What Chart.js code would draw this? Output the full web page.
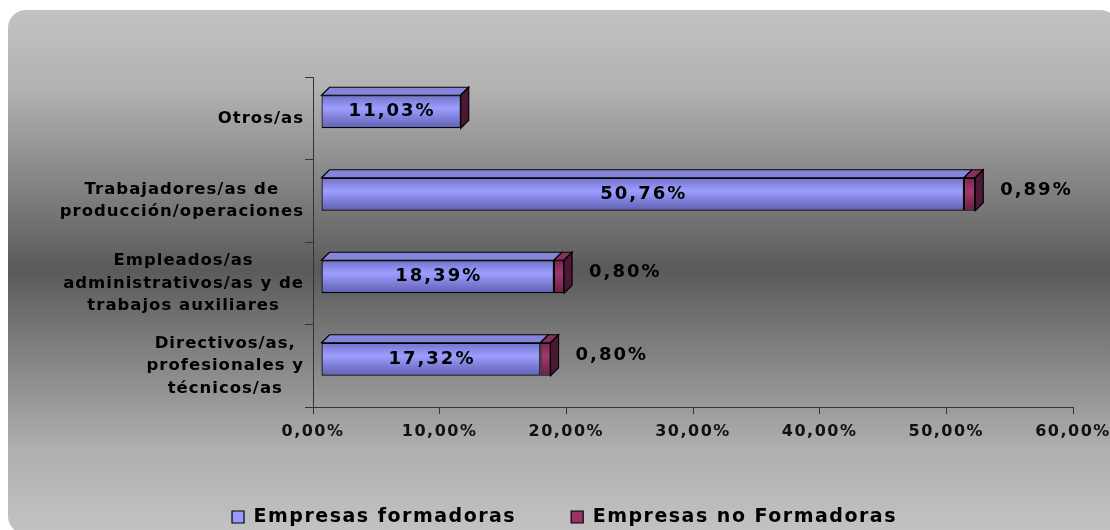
<!DOCTYPE html>
<html>
<head>
<meta charset="utf-8">
<script src="https://cdn.jsdelivr.net/npm/chart.js@4.4.0/dist/chart.umd.min.js"></script>
<style>
    html, body { margin: 0; padding: 0; background: #fff; overflow: hidden; }
</style>
</head>
<body>
<canvas id="grafico" width="1110" height="530"></canvas>
<script>
// datos
const categorias = [
    ['Otros/as'],
    ['Trabajadores/as de', 'producción/operaciones'],
    ['Empleados/as', 'administrativos/as y de', 'trabajos auxiliares'],
    ['Directivos/as,', 'profesionales y', 'técnicos/as']
];
const formadoras = [11.03, 50.76, 18.39, 17.32];
const noFormadoras = [0, 0.89, 0.80, 0.80];
const nombresSeries = ['Empresas formadoras', 'Empresas no Formadoras'];
const coloresSeries = ['#9999ff', '#993366'];
const ticksX = [0, 10, 20, 30, 40, 50, 60];

const PROF = 8;      // profundidad del efecto 3D
const DY = -6.5;     // desplazamiento vertical de la cara frontal
const FUENTE = 'DejaVu Sans, Verdana, sans-serif';

function pct(v) {
    return v.toFixed(2).replace('.', ',') + '%';
}

function degradado(c, c1, c2, c3) {
    const chart = c.chart;
    const ys = chart.scales.y;
    if (!ys || c.type !== 'data') return c2;
    const yc = ys.getPixelForValue(c.dataIndex);
    const h = ys.height / categorias.length * 0.4;
    if (!isFinite(yc) || !isFinite(h) || h <= 0) return c2;
    const g = chart.ctx.createLinearGradient(0, yc - h / 2, 0, yc + h / 2);
    g.addColorStop(0, c1);
    g.addColorStop(0.4, c2);
    g.addColorStop(1, c3);
    return g;
}

const espaciado = {
    id: 'espaciado',
    beforeUpdate(chart) { chart.ctx.letterSpacing = '1.5px'; },
    beforeDraw(chart) { chart.ctx.letterSpacing = '1.5px'; },
    afterLayout(chart) {
        // la leyenda va pegada al borde inferior, como en el original
        const lg = chart.legend;
        const alto = lg.height;
        lg.top = 517 - lg.options.labels.padding - 9.5;
        lg.bottom = lg.top + alto;
        lg.left += 28;
        lg.right += 28;
    }
};

const fondo = {
    id: 'fondo',
    beforeDraw(chart) {
        const ctx = chart.ctx;
        ctx.save();
        const g = ctx.createLinearGradient(0, 10, 0, 530);
        g.addColorStop(0, '#c2c2c2');
        g.addColorStop(0.15, '#b2b2b2');
        g.addColorStop(0.5, '#5a5a5a');
        g.addColorStop(0.85, '#b0b0b0');
        g.addColorStop(1, '#c2c2c2');
        ctx.fillStyle = g;
        ctx.beginPath();
        ctx.roundRect(8, 10, 1110, 524, 18);
        ctx.fill();
        ctx.restore();
    }
};

const barras3d = {
    id: 'barras3d',
    beforeDatasetsDraw(chart) {
        chart.ctx.save();
        chart.ctx.translate(PROF, DY);
    },
    afterDatasetsDraw(chart) {
        const ctx = chart.ctx;
        const tapas = ['#8585da', '#86305c'];
        const n = chart.data.datasets.length;
        ctx.lineWidth = 1.2;
        ctx.strokeStyle = '#000';
        for (let d = 0; d < n; d++) {
            const meta = chart.getDatasetMeta(d);
            meta.data.forEach(function (bar) {
                const p = bar.getProps(['x', 'y', 'base', 'height'], true);
                const top = p.y - p.height / 2;
                const bottom = p.y + p.height / 2;
                const x0 = Math.min(p.base, p.x);
                const x1 = Math.max(p.base, p.x);
                ctx.beginPath();
                ctx.moveTo(x0, top);
                ctx.lineTo(x0 + PROF, top - PROF);
                ctx.lineTo(x1 + PROF, top - PROF);
                ctx.lineTo(x1, top);
                ctx.closePath();
                ctx.fillStyle = tapas[d];
                ctx.fill();
                ctx.stroke();
                if (d === n - 1) {
                    ctx.beginPath();
                    ctx.moveTo(x1, top);
                    ctx.lineTo(x1 + PROF, top - PROF);
                    ctx.lineTo(x1 + PROF, bottom - PROF);
                    ctx.lineTo(x1, bottom);
                    ctx.closePath();
                    ctx.fillStyle = '#4d1834';
                    ctx.fill();
                    ctx.stroke();
                }
            });
        }
        ctx.restore();

        // etiquetas de datos
        ctx.save();
        ctx.font = 'bold 18px ' + FUENTE;
        ctx.letterSpacing = '2px';
        ctx.fillStyle = '#000';
        ctx.textBaseline = 'middle';
        chart.getDatasetMeta(0).data.forEach(function (bar, i) {
            const p = bar.getProps(['x', 'y', 'base'], true);
            ctx.textAlign = 'center';
            ctx.fillText(pct(formadoras[i]), (p.base + p.x) / 2 + PROF + 1, p.y + DY);
        });
        chart.getDatasetMeta(1).data.forEach(function (bar, i) {
            if (!noFormadoras[i]) return;
            const p = bar.getProps(['x', 'y'], true);
            ctx.textAlign = 'left';
            ctx.fillText(pct(noFormadoras[i]), p.x + PROF + 25, p.y + DY - 4);
        });
        ctx.restore();
    }
};

const etiquetasY = {
    id: 'etiquetasY',
    afterDraw(chart) {
        const ctx = chart.ctx;
        const ys = chart.scales.y;
        ctx.save();
        ctx.font = 'bold 16.5px ' + FUENTE;
        ctx.letterSpacing = '1px';
        ctx.fillStyle = '#000';
        ctx.textAlign = 'center';
        ctx.textBaseline = 'middle';
        const lh = 22.5;
        categorias.forEach(function (lineas, i) {
            const y = ys.getPixelForValue(i);
            let ancho = 0;
            lineas.forEach(function (t) { ancho = Math.max(ancho, ctx.measureText(t).width); });
            const cx = 304 - ancho / 2;
            lineas.forEach(function (t, j) {
                ctx.fillText(t, cx, y + (j - (lineas.length - 1) / 2) * lh);
            });
        });
        ctx.restore();
    }
};

const ctx = document.getElementById('grafico').getContext('2d');
const grafico = new Chart(ctx, {
    type: 'bar',
    data: {
        labels: categorias,
        datasets: [{
            label: nombresSeries[0],
            data: formadoras,
            backgroundColor: function (c) { return degradado(c, '#7272cc', '#9d9dff', '#5e5eb0'); },
            borderColor: '#000',
            borderWidth: 1.2,
            borderSkipped: false,
            categoryPercentage: 1,
            barPercentage: 0.4
        }, {
            label: nombresSeries[1],
            data: noFormadoras,
            backgroundColor: function (c) { return degradado(c, '#7a2550', '#a3386e', '#6a1f45'); },
            borderColor: '#000',
            borderWidth: 1.2,
            borderSkipped: false,
            categoryPercentage: 1,
            barPercentage: 0.4
        }]
    },
    options: {
        indexAxis: 'y',
        responsive: false,
        devicePixelRatio: 1,
        animation: false,
        layout: {
            padding: { top: 77, right: 37, left: 0, bottom: 0 }
        },
        scales: {
            x: {
                stacked: true,
                min: 0,
                max: 60,
                afterBuildTicks: function (axis) {
                    axis.ticks = ticksX.map(function (v) { return { value: v }; });
                },
                afterFit: function (axis) {
                    axis.height = 530 - axis.chart.legend.height - 407;
                    axis.paddingLeft = 0;
                    axis.paddingRight = 0;
                },
                grid: { drawOnChartArea: false, tickLength: 7, color: '#333' },
                border: { color: '#333', width: 1 },
                ticks: {
                    font: { family: FUENTE, size: 16, weight: 'bold' },
                    color: '#111',
                    padding: 8,
                    maxRotation: 0,
                    callback: function (v) { return pct(v); }
                }
            },
            y: {
                stacked: true,
                afterFit: function (axis) { axis.width = 313; },
                grid: { drawOnChartArea: false, tickLength: 8, color: '#333' },
                border: { color: '#333', width: 1 },
                ticks: { display: false }
            }
        },
        plugins: {
            legend: {
                position: 'bottom',
                labels: {
                    boxWidth: 12,
                    boxHeight: 12,
                    padding: 55,
                    color: '#000',
                    font: { family: FUENTE, size: 19, weight: 'bold' },
                    generateLabels: function (chart) {
                        return Chart.defaults.plugins.legend.labels.generateLabels(chart).map(function (l, i) {
                            l.fillStyle = coloresSeries[i];
                            l.strokeStyle = '#000';
                            l.lineWidth = 1.2;
                            return l;
                        });
                    }
                }
            },
            tooltip: { enabled: false }
        }
    },
    plugins: [espaciado, fondo, barras3d, etiquetasY]
});
</script>
</body>
</html>
